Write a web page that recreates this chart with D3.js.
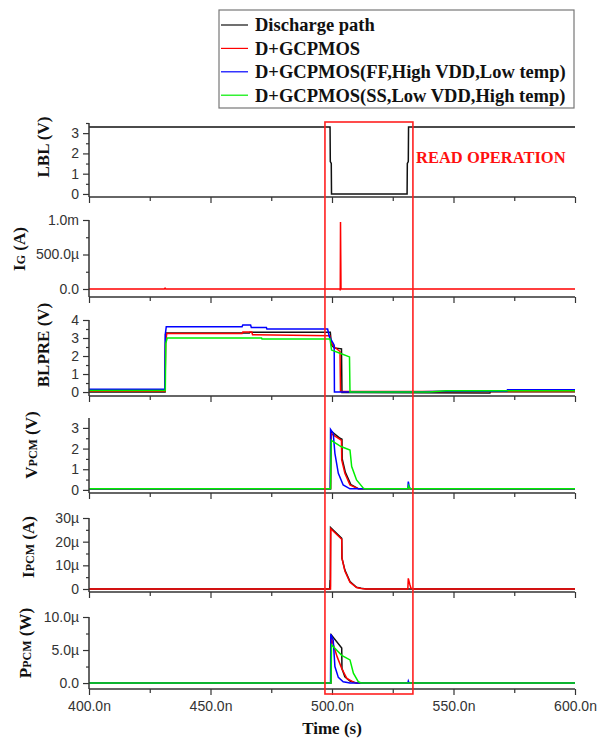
<!DOCTYPE html>
<html>
<head>
<meta charset="utf-8">
<script src="https://cdn.jsdelivr.net/npm/d3@7"></script>
<style>
  html, body { margin: 0; padding: 0; background: #fff; }
  svg { display: block; }
</style>
</head>
<body>
<svg id="chart" width="600" height="743"></svg>
<script>
// ---------------- DATA ----------------
const seriesNames = ["Discharge path", "D+GCPMOS", "D+GCPMOS(FF,High VDD,Low temp)", "D+GCPMOS(SS,Low VDD,High temp)"];
const seriesColors = ["#111111", "#ff0000", "#0000ff", "#00ee00"];

const xTicks = [400, 450, 500, 550, 600];
const xTickLabels = ["400.0n", "450.0n", "500.0n", "550.0n", "600.0n"];
const xMinorTicks = [425, 475, 525, 575];
const readWindow = [497.1, 533.3];

// LBL (V)
const lblBlack = [[400,3.3],[499.2,3.3],[499.3,1.6],[499.7,1.5],[499.8,0],[530.9,0],[531.0,1.5],[531.4,1.6],[531.5,3.3],[600,3.3]];
const lblTicks = [0,1,2,3];
const lblTickLabels = ["0","1","2","3"];

// IG (A) values in µA
const igRed = [[400,0],[431.0,0],[431.3,12],[431.6,0],[503.3,0],[503.4,-20],[503.5,970],[503.7,0],[600,0]];
const igTicks = [0,500,1000];
const igTickLabels = ["0.0","500.0µ","1.0m"];

// BLPRE (V)
const blpreBlack = [[400,0.0],[431.3,0.0],[431.5,3.2],[431.8,3.28],[466,3.28],[466.2,3.32],[499.3,3.32],[499.8,2.6],[501,2.45],[503.9,2.4],[504.1,-0.03],[565,-0.05],[565.2,0.02],[600,0.02]];
const blpreRed = [[400,0.05],[431.3,0.05],[431.5,2.7],[432,3.25],[463,3.25],[463.3,3.33],[467,3.33],[467.3,3.18],[499.1,3.12],[499.6,2.75],[501,2.5],[503.3,2.25],[503.5,0.03],[600,0.03]];
const blpreBlue = [[400,0.15],[431.2,0.15],[431.4,3.2],[431.8,3.63],[463,3.63],[463.3,3.72],[466.5,3.72],[466.8,3.58],[473,3.58],[473.2,3.5],[498.2,3.5],[498.9,3.07],[500.5,2.7],[500.9,2.6],[501,0],[537,0.02],[547,0.05],[572,0.05],[572.2,0.13],[600,0.13]];
const blpreGreen = [[400,0.08],[431.4,0.08],[431.6,2.7],[432.2,3.0],[471,3.0],[471.2,2.94],[499.2,2.94],[499.8,2.33],[503.3,2.15],[507.2,1.95],[507.4,0.0],[540,0.0],[547,0.07],[600,0.07]];
const blpreTicks = [0,1,2,3,4];
const blpreTickLabels = ["0","1","2","3","4"];

// VPCM (V)
const vpcmBlack = [[400,0.05],[499.4,0.05],[499.6,2.85],[503.3,2.5],[504.1,2.45],[504.2,1.5],[505.5,0.85],[507.8,0.25],[511,0.05],[600,0.05]];
const vpcmRed = [[400,0.05],[499.4,0.05],[499.5,2.74],[503.3,2.45],[503.9,2.4],[504.0,1.45],[505.3,0.8],[507.4,0.24],[510.8,0.05],[600,0.05]];
const vpcmBlue = [[400,0.05],[499.3,0.05],[499.4,2.93],[500.5,2.74],[501.2,1.77],[502.6,0.8],[504.6,0.24],[507.4,0.05],[531.2,0.05],[531.4,0.4],[531.8,0.15],[532.3,0.05],[600,0.05]];
const vpcmGreen = [[400,0.05],[499.4,0.05],[499.7,2.4],[503.7,2.1],[507.4,1.93],[508.1,1.13],[510.1,0.48],[512.9,0.08],[513.5,0.05],[531.2,0.05],[531.5,0.2],[532,0.05],[600,0.05]];
const vpcmTicks = [0,1,2,3];
const vpcmTickLabels = ["0","1","2","3"];

// IPCM (A) values in µA
const ipcmBlack = [[400,0],[499.1,0],[499.2,3.8],[499.3,0.5],[499.4,26],[504.0,21.4],[504.1,13],[505.3,8],[507.4,3.1],[510.1,0.7],[512,0.3],[514,0],[600,0]];
const ipcmRed = [[400,0],[499.4,0],[499.5,25.5],[504.0,21],[504.1,13],[505.3,7.6],[507.4,2.8],[510.1,0.6],[512,0.2],[514,0],[531.2,0],[531.4,4.5],[532.0,2],[532.5,0.3],[533.5,0],[600,0]];
const ipcmTicks = [0,10,20,30];
const ipcmTickLabels = ["0","10µ","20µ","30µ"];

// PPCM (W) values in µW
const ppcmBlack = [[400,0],[499.5,0],[499.7,7.3],[504.0,5.3],[504.1,2.2],[505.3,0.95],[507.4,0.3],[510,0],[600,0]];
const ppcmRed = [[400,0],[499.5,0],[499.7,6.8],[502.1,4.0],[504.0,2.2],[506.1,0.7],[509,0.1],[511,0],[600,0]];
const ppcmBlue = [[400,0],[499.4,0],[499.5,7.4],[500.5,6.5],[501.2,2.5],[502.6,0.86],[504.6,0.2],[507.4,0],[531.2,0],[531.4,0.3],[531.7,0],[600,0]];
const ppcmGreen = [[400,0],[499.6,0],[499.8,5.8],[504.0,4.2],[507.4,3.5],[508.8,1.5],[510.8,0.2],[512,0],[600,0]];
const ppcmTicks = [0,5,10];
const ppcmTickLabels = ["0.0","5.0µ","10.0µ"];

// ---------------- LAYOUT ----------------
const svg = d3.select("#chart");
const x = d3.scaleLinear().domain([400, 600]).range([89, 575]);
const axisColor = "#333";
const tickFont = "'Liberation Sans', Arial, sans-serif";
const serif = "'Liberation Serif', 'Times New Roman', serif";

const panels = [
  { top:123, bottom:197, domain:[-0.15,3.5], ticks:lblTicks, labels:lblTickLabels, minorStep:0.5,
    series:[[lblBlack,0]], label:[["LBL",17],[" (V)",17]], lx:43, ly:147 },
  { top:220, bottom:297, domain:[-116,1000], ticks:igTicks, labels:igTickLabels, minorStep:250,
    series:[[igRed,1]], label:[["I",17],["G",12],[" (A)",17]], lx:19, ly:249 },
  { top:320, bottom:396, domain:[-0.22,4], ticks:blpreTicks, labels:blpreTickLabels, minorStep:0.5,
    series:[[blpreBlack,0],[blpreRed,1],[blpreBlue,2],[blpreGreen,3]], label:[["BLPRE",17],[" (V)",17]], lx:43, ly:345 },
  { top:418, bottom:493, domain:[-0.15,3.48], ticks:vpcmTicks, labels:vpcmTickLabels, minorStep:0.5,
    series:[[vpcmBlack,0],[vpcmRed,1],[vpcmBlue,2],[vpcmGreen,3]], label:[["V",17],["PCM",12],[" (V)",17]], lx:31, ly:445 },
  { top:518, bottom:592, domain:[-1.27,30], ticks:ipcmTicks, labels:ipcmTickLabels, minorStep:5,
    series:[[ipcmBlack,0],[ipcmRed,1]], label:[["I",17],["PCM",12],[" (A)",17]], lx:28, ly:547 },
  { top:617, bottom:689, domain:[-0.9,10], ticks:ppcmTicks, labels:ppcmTickLabels, minorStep:2.5,
    series:[[ppcmBlack,0],[ppcmRed,1],[ppcmBlue,2],[ppcmGreen,3]], label:[["P",17],["PCM",12],[" (W)",17]], lx:25, ly:643 }
];

panels.forEach((p, i) => {
  const y = d3.scaleLinear().domain(p.domain).range([p.bottom, p.top]);
  const g = svg.append("g");

  const line = d3.line().x(d => x(d[0])).y(d => y(d[1]));
  p.series.forEach(([data, ci]) => {
    g.append("path").datum(data)
      .attr("d", line)
      .attr("fill", "none")
      .attr("stroke", seriesColors[ci])
      .attr("stroke-width", 1.5)
      .attr("stroke-linejoin", "miter");
  });

  const minors = d3.range(0, p.domain[1] + 1e-9, p.minorStep).filter(v => !p.ticks.some(t => Math.abs(t - v) < 1e-9));
  const yMinor = d3.axisLeft(y).tickValues(minors).tickSize(3).tickFormat("");
  g.append("g").attr("transform", `translate(89,0)`).call(yMinor)
    .call(s => s.select(".domain").remove())
    .selectAll("line").attr("stroke", axisColor).attr("stroke-width", 1.2);

  const yAxis = d3.axisLeft(y).tickValues(p.ticks).tickSize(6).tickPadding(4)
    .tickFormat((d, k) => p.labels[k]);
  const ya = g.append("g").attr("transform", `translate(89,0)`).call(yAxis);
  ya.select(".domain").attr("d", `M0,${p.top}V${p.bottom}`).attr("stroke", axisColor).attr("stroke-width", 1.5);
  ya.selectAll("line").attr("stroke", axisColor).attr("stroke-width", 1.2);
  ya.selectAll("text").attr("font-family", tickFont).attr("font-size", 14).attr("fill", "#333");

  const xMinor = d3.axisBottom(x).tickValues(xMinorTicks).tickSize(4).tickFormat("");
  g.append("g").attr("transform", `translate(0,${p.bottom})`).call(xMinor)
    .call(s => s.select(".domain").remove())
    .selectAll("line").attr("stroke", axisColor).attr("stroke-width", 1.2);
  const isLast = i === panels.length - 1;
  const xAxis = d3.axisBottom(x).tickValues(xTicks).tickSize(6).tickPadding(6)
    .tickFormat((d, k) => isLast ? xTickLabels[k] : "");
  const xa = g.append("g").attr("transform", `translate(0,${p.bottom})`).call(xAxis);
  xa.select(".domain").attr("d", `M89,0H575`).attr("stroke", axisColor).attr("stroke-width", 1.5);
  xa.selectAll("line").attr("stroke", axisColor).attr("stroke-width", 1.2);
  xa.selectAll("text").attr("font-family", tickFont).attr("font-size", 14).attr("fill", "#333");

  const t = svg.append("text")
    .attr("transform", `translate(${p.lx},${p.ly}) rotate(-90)`)
    .attr("text-anchor", "middle").attr("dy", "0.35em")
    .attr("font-family", serif).attr("font-weight", "bold").attr("fill", "#111");
  p.label.forEach(([s, fs]) => t.append("tspan").attr("font-size", fs).text(s));
});

svg.append("text").attr("x", 332).attr("y", 734).attr("text-anchor", "middle")
  .attr("font-family", serif).attr("font-weight", "bold").attr("font-size", 17).attr("fill", "#111")
  .text("Time (s)");

svg.append("rect")
  .attr("x", x(readWindow[0])).attr("y", 122)
  .attr("width", x(readWindow[1]) - x(readWindow[0])).attr("height", 694 - 122)
  .attr("fill", "none").attr("stroke", "#ff2020").attr("stroke-width", 1.6);
svg.append("text").attr("x", 416).attr("y", 163)
  .attr("font-family", serif).attr("font-weight", "bold").attr("font-size", 16.5).attr("fill", "#ff1010")
  .text("READ OPERATION");

const lg = svg.append("g");
lg.append("rect").attr("x", 219).attr("y", 10).attr("width", 355).attr("height", 98)
  .attr("fill", "#fff").attr("stroke", "#777").attr("stroke-width", 1.2);
seriesNames.forEach((name, k) => {
  const cy = 25 + k * 23.4;
  lg.append("line").attr("x1", 221).attr("x2", 248).attr("y1", cy).attr("y2", cy)
    .attr("stroke", seriesColors[k]).attr("stroke-width", 1.2);
  lg.append("text").attr("x", 255).attr("y", cy).attr("dy", "0.35em")
    .attr("font-family", serif).attr("font-weight", "bold").attr("font-size", 18.5).attr("fill", "#111")
    .text(name);
});
</script>
</body>
</html>
